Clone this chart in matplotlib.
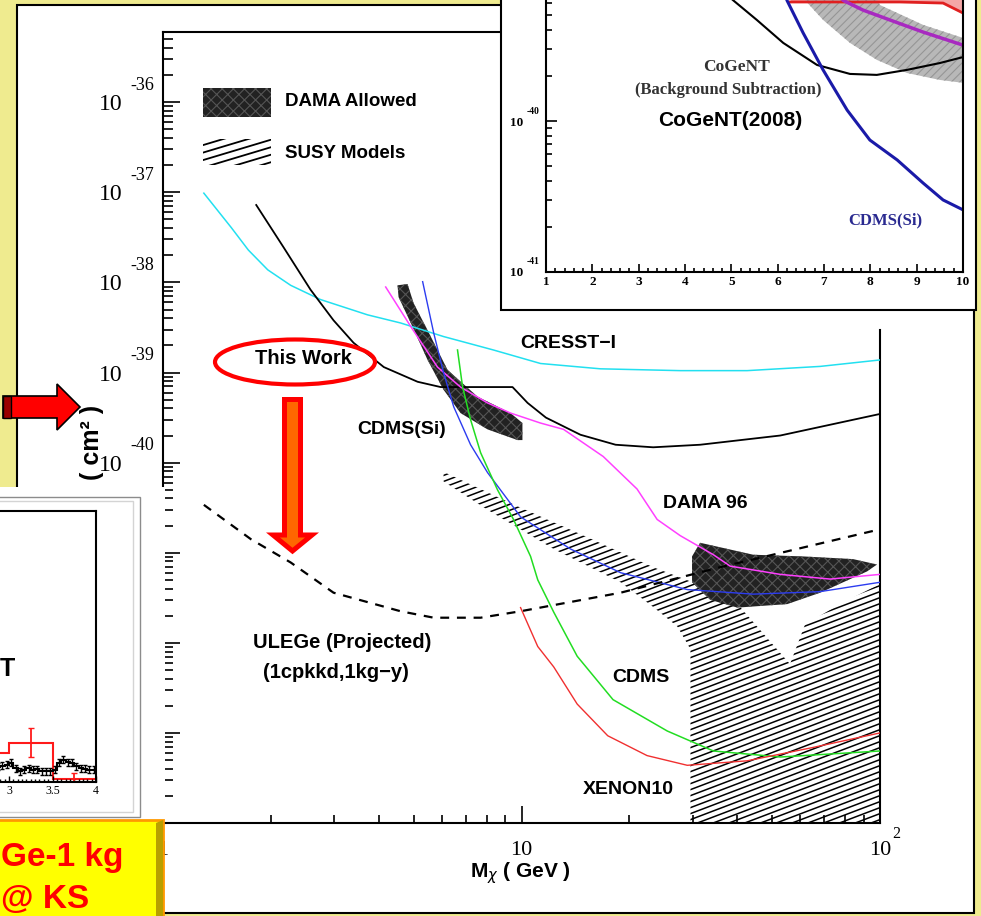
import matplotlib
matplotlib.use('Agg')
import matplotlib.pyplot as plt
import matplotlib.patches as mpatches
import matplotlib.transforms as mtransforms
from matplotlib.collections import LineCollection
from matplotlib.ticker import (LogLocator, FixedLocator, FuncFormatter,
                               NullFormatter, MultipleLocator, NullLocator)
import numpy as np

plt.rcParams['font.family'] = ['Liberation Serif', 'DejaVu Serif']
plt.rcParams['hatch.linewidth'] = 0.8
SANS = ['Liberation Sans', 'DejaVu Sans']

W, H = 981, 916
ID = mtransforms.IdentityTransform()

# ---------------- main plot data: WIMP mass (GeV) vs cross section (cm^2)
cresst_m = [1.30, 1.55, 1.73, 1.96, 2.27, 2.75, 3.72, 4.60, 6.06, 8.35, 11.3, 16.6, 27.7, 42.6, 68.1, 100]
cresst_s = [9.8e-38, 4.07e-38, 2.29e-38, 1.38e-38, 9.3e-39, 6.46e-39, 4.37e-39, 3.55e-39, 2.51e-39,
            1.78e-39, 1.26e-39, 1.10e-39, 1.05e-39, 1.05e-39, 1.17e-39, 1.38e-39]

thiswork_m = [1.82, 2.17, 2.58, 2.99, 3.40, 4.13, 5.13, 5.95, 9.44, 10.4, 11.7, 14.6, 18.3, 23.3, 31.5, 52.7, 100]
thiswork_s = [7.24e-38, 2.45e-38, 8.3e-39, 3.8e-39, 2.14e-39, 1.15e-39, 7.9e-40, 6.9e-40, 6.9e-40, 4.6e-40,
              3.16e-40, 2.04e-40, 1.58e-40, 1.48e-40, 1.58e-40, 2.0e-40, 3.47e-40]

dama96_m = [4.18, 4.91, 5.83, 6.76, 8.04, 9.32, 11.3, 13.1, 16.9, 21.0, 23.9, 27.7, 34.3, 38.2, 52.7, 72.6, 100]
dama96_s = [8.9e-39, 3.24e-39, 1.15e-39, 6.9e-40, 4.6e-40, 3.55e-40, 2.75e-40, 2.34e-40, 1.17e-40, 5.1e-41,
            2.34e-41, 1.55e-41, 9.5e-42, 7.1e-42, 5.75e-42, 5.1e-42, 5.75e-42]

cdmssi_m = [5.30, 5.69, 6.06, 6.47, 7.21, 8.04, 9.94, 13.7, 18.9, 29.0, 44.3, 68.1, 100]
cdmssi_s = [1.02e-38, 2.75e-39, 1.0e-39, 4.17e-40, 1.58e-40, 7.76e-41, 2.5e-41, 1.1e-41, 6.0e-42, 3.9e-42,
            3.47e-42, 3.7e-42, 4.7e-42]

cdms_m = [6.63, 6.85, 7.21, 7.69, 8.57, 9.50, 10.6, 11.1, 12.3, 14.3, 18.0, 25.5, 34.3, 52.7, 100]
cdms_s = [1.78e-39, 6.9e-40, 3.0e-40, 1.29e-40, 5.0e-41, 2.34e-41, 9.1e-42, 5.0e-42, 2.19e-42, 7.1e-43,
          2.34e-43, 1.05e-43, 6.3e-44, 5.4e-44, 6.3e-44]

xenon_m = [9.94, 11.1, 12.3, 14.3, 17.4, 22.4, 29.0, 42.6, 65.1, 100]
xenon_s = [2.46e-42, 9.1e-43, 5.4e-43, 2.09e-43, 9.3e-44, 5.6e-44, 4.37e-44, 4.9e-44, 6.9e-44, 1.0e-43]

ulege_m = [1.30, 1.76, 2.27, 2.99, 4.60, 5.69, 7.69, 9.94, 18.9, 35.8, 100]
ulege_s = [3.4e-41, 1.41e-41, 7.8e-42, 3.6e-42, 2.24e-42, 1.9e-42, 1.9e-42, 2.24e-42, 3.6e-42, 6.9e-42, 1.82e-41]

dama_lo_m = [4.51, 4.81, 5.00, 5.47, 6.22, 7.54, 9.32, 10.06, 10.06, 9.75, 8.04, 6.76, 6.06, 5.47, 4.91, 4.54]
dama_lo_s = [9.3e-39, 9.6e-39, 5.9e-39, 2.95e-39, 1.07e-39, 5.4e-40, 3.55e-40, 2.75e-40, 1.78e-40, 1.78e-40,
             2.34e-40, 3.55e-40, 6.45e-40, 1.38e-39, 3.55e-39, 6.9e-39]

dama_hi_m = [29.9, 31.5, 44.3, 61.0, 84.1, 98.1, 92.0, 68.1, 55.1, 40.0, 33.6, 29.9]
dama_hi_s = [9.1e-42, 1.29e-41, 9.5e-42, 9.1e-42, 8.5e-42, 7.4e-42, 6.2e-42, 3.6e-42, 2.69e-42, 2.46e-42,
             3.0e-42, 4.7e-42]

susy_m = [6.06, 9.94, 15.3, 23.3, 29.6, 40.7, 56.1, 61.8, 77.4, 100, 100, 29.6, 29.6, 27.2, 23.3, 18.9,
          12.3, 8.04, 6.06]
susy_s = [7.9e-41, 3.16e-41, 1.48e-41, 6.9e-42, 4.8e-42, 2.5e-42, 5.8e-43, 1.6e-42, 2.69e-42, 4.5e-42,
          1e-44, 1e-44, 8.5e-43, 1.52e-42, 2.5e-42, 4.7e-42, 1.1e-41, 3.0e-41, 6.2e-41]

# ---------------- CoGeNT (2008) inset: mass 1-10 GeV
cogent_m = [4.3, 5.04, 5.55, 6.12, 6.85, 7.56, 8.14, 8.79, 9.50, 10.0]
cogent_s = [1.0e-39, 6.3e-40, 4.67e-40, 3.29e-40, 2.35e-40, 2.05e-40, 2.02e-40, 2.18e-40, 2.42e-40, 2.65e-40]
band_m = [6.27, 7.78, 8.21, 9.14, 10.0, 10.0, 9.50, 8.79, 8.14, 7.56, 6.98, 6.59, 6.16]
band_s = [1e-39, 1e-39, 5.86e-40, 4.33e-40, 3.55e-40, 1.79e-40, 1.87e-40, 2.08e-40, 2.54e-40, 3.29e-40,
          4.67e-40, 6.3e-40, 1e-39]
purple_m = [7.13, 7.41, 7.84, 8.42, 9.14, 10.0]
purple_s = [1e-39, 6.3e-40, 5.43e-40, 4.67e-40, 3.88e-40, 3.18e-40]
red_in_m = [6.27, 7.56, 8.64, 9.57, 10.0]
red_in_s = [6.14e-40, 6.14e-40, 6.14e-40, 6.04e-40, 5.19e-40]
blue_in_m = [6.05, 6.20, 6.55, 6.98, 7.50, 7.99, 8.58, 9.14, 9.57, 10.0]
blue_in_s = [1e-39, 6.3e-40, 3.83e-40, 2.18e-40, 1.18e-40, 7.48e-41, 5.52e-41, 3.88e-41, 3.0e-41, 2.58e-41]

# ---------------- spectrum inset (energy keV, counts)
red_edges = [2.5, 3.0, 3.5, 4.0]
red_counts = [2.9, 3.9, 0.3]
red_err_x = [3.25, 3.75]
red_err_y = [3.95, 0.4]
red_err = [1.45, 0.45]
blk_edges = [2.85, 2.90, 2.95, 3.00, 3.05, 3.10, 3.15, 3.20, 3.25, 3.30, 3.35, 3.40, 3.45,
             3.50, 3.55, 3.60, 3.65, 3.70, 3.75, 3.80, 3.85, 3.90, 3.95, 4.00]
blk_counts = [1.5, 1.6, 1.7, 1.9, 1.35, 1.05, 1.2, 1.35, 1.2, 1.25, 1.05, 1.05, 1.05,
              1.2, 1.9, 2.2, 1.95, 1.9, 1.55, 1.35, 1.3, 1.2, 1.2]

main_decades = [-36, -37, -38, -39, -40]
inset_decades = [-40, -41]


def fig_rect(x0, y0, x1, y1):
    return [x0 / W, 1 - y1 / H, (x1 - x0) / W, (y1 - y0) / H]


def D(px, py):
    return (px, H - py)


def hatch(ax, clip, spacing=6.0, slope=0.38, lw=1.1):
    segs = [[(100, c + slope * 100), (1000, c + slope * 1000)] for c in np.arange(-700, 1200, spacing)]
    lc = LineCollection(segs, colors='k', linewidths=lw, transform=ID)
    ax.add_collection(lc, autolim=False)
    lc.set_clip_path(clip)


def shifted(trans, dx, dy):
    return trans + mtransforms.ScaledTranslation(dx / 100, dy / 100, fig.dpi_scale_trans)


fig = plt.figure(figsize=(W / 100, H / 100), dpi=100, facecolor='#EFEB8F')

# white slide panel
fig.add_artist(mpatches.Rectangle(D(17, 913), 957, 908, transform=ID, fc='white', ec='black',
                                  lw=1.5, zorder=0.5))

# ================= main plot
ax = fig.add_axes(fig_rect(163, 32, 880, 823))
ax.set_zorder(1)
ax.set_xscale('log')
ax.set_yscale('log')

susy = mpatches.Polygon(np.column_stack([susy_m, susy_s]), closed=True, fc='none', ec='none')
ax.add_patch(susy)
hatch(ax, susy)

for m, s in [(dama_lo_m, dama_lo_s), (dama_hi_m, dama_hi_s)]:
    ax.add_patch(mpatches.Polygon(np.column_stack([m, s]), closed=True, fc='#222222', ec='#555555',
                                  lw=0, hatch='xxx', zorder=2))

ax.plot(cresst_m, cresst_s, color='#22E0F0', lw=1.1, zorder=3)
ax.plot(thiswork_m, thiswork_s, color='black', lw=1.3, zorder=3)
ax.plot(dama96_m, dama96_s, color='#FF40FF', lw=1.1, zorder=3)
ax.plot(cdmssi_m, cdmssi_s, color='#2C3CF0', lw=1.0, zorder=3)
ax.plot(cdms_m, cdms_s, color='#22DD22', lw=1.1, zorder=3)
ax.plot(xenon_m, xenon_s, color='#F03030', lw=1.0, zorder=3)
ax.plot(ulege_m, ulege_s, color='black', lw=1.6, ls=(0, (4, 3.5)), zorder=3)

ax.set_xlim(1, 100)
ax.set_ylim(1e-44, 10 ** -35.22)

ax.xaxis.set_major_locator(FixedLocator([1, 10, 100]))
ax.xaxis.set_minor_locator(LogLocator(base=10, subs=np.arange(2, 10)))
xlab = {1: '1', 10: '10', 100: '10'}
ax.xaxis.set_major_formatter(FuncFormatter(lambda v, p: xlab.get(int(round(v)), '')))
ax.xaxis.set_minor_formatter(NullFormatter())
ax.yaxis.set_major_locator(LogLocator(base=10, numticks=30))
ax.yaxis.set_minor_locator(LogLocator(base=10, subs=np.arange(2, 10), numticks=30))
ax.yaxis.set_major_formatter(FuncFormatter(
    lambda v, p: '10' if int(round(np.log10(v))) in main_decades else ''))
ax.yaxis.set_minor_formatter(NullFormatter())

ax.tick_params(which='both', direction='in', top=False, right=False, width=1.2, labelsize=16)
ax.tick_params(axis='y', labelsize=17)
ax.tick_params(which='major', length=12)
ax.tick_params(axis='y', which='minor', length=7)
ax.tick_params(axis='x', which='minor', length=6)
ax.tick_params(axis='y', pad=29)
ax.tick_params(axis='x', pad=13)
for sp in ax.spines.values():
    sp.set_linewidth(1.5)
ax.spines['right'].set_bounds(1e-44, 2.95e-39)

# exponents of the tick labels
ybl = mtransforms.blended_transform_factory(ax.transAxes, ax.transData)
for e in main_decades:
    ax.text((130 - 163) / 717, 10.0 ** e, '-%d' % -e, transform=shifted(ybl, 0, 17), fontsize=13,
            ha='left', va='center', clip_on=False)
xbl = mtransforms.blended_transform_factory(ax.transData, ax.transAxes)
ax.text(100, 0, '2', transform=shifted(xbl, 12, -11), fontsize=11.5, ha='left', va='center',
        clip_on=False)


def txt(a, px, py, s, size=14, **kw):
    kw.setdefault('ha', 'left')
    return a.text(*D(px, py), s, transform=ID, fontfamily=SANS, fontweight='bold',
                  fontsize=size, va='center', **kw)


# legend
ax.add_patch(mpatches.Rectangle(D(203, 117), 68, 29, transform=ID, fc='#222222', ec='#555555',
                                lw=0, hatch='xxx'))
susy_key = mpatches.Rectangle(D(203, 165), 68, 26, transform=ID, fc='none', ec='none')
ax.add_patch(susy_key)
hatch(ax, susy_key, spacing=7.5, slope=0.3, lw=1.3)
txt(ax, 285, 102, 'DAMA Allowed', 13.5)
txt(ax, 285, 153, 'SUSY Models', 13.5)

txt(ax, 520, 343, 'CRESST\u2212I')
txt(ax, 303, 359, 'This Work', 14.5, ha='center')
txt(ax, 357, 430, 'CDMS(Si)')
txt(ax, 663, 503, 'DAMA 96')
txt(ax, 253, 643, 'ULEGe (Projected)', 14.5)
txt(ax, 263, 673, '(1cpkkd,1kg\u2212y)', 14.5)
txt(ax, 612, 677, 'CDMS')
txt(ax, 583, 789, 'XENON10')
ax.text(*D(520, 873), r'M$_{\chi}$ ( GeV )', transform=ID, fontfamily=SANS, fontweight='bold',
        fontsize=15, ha='center', va='center', math_fontfamily='dejavusans')
fig.text(*D(92, 442), '( cm\u00b2 )', transform=ID, fontfamily=SANS, fontweight='bold',
         fontsize=18, rotation=90, ha='center', va='center', zorder=1.5)

# ================= CoGeNT inset (top right)
fig.add_artist(mpatches.Rectangle(D(501, 310), 475, 330, transform=ID, fc='white', ec='black',
                                  lw=1.5, zorder=2))
ax2 = fig.add_axes(fig_rect(546, -30, 963, 272))
ax2.set_zorder(3)
ax2.set_yscale('log')
ax2.fill_between(red_in_m, red_in_s, 1e-39, color='#F4A6A6', lw=0)
ax2.add_patch(mpatches.Polygon(np.column_stack([band_m, band_s]), closed=True, fc='#B8B8B8',
                               ec='#959595', lw=0, hatch='////'))
ax2.plot(red_in_m, red_in_s, color='#E02020', lw=2)
ax2.plot(purple_m, purple_s, color='#A82AC0', lw=2.5)
ax2.plot(cogent_m, cogent_s, color='black', lw=1.5)
ax2.plot(blue_in_m, blue_in_s, color='#1A1AA8', lw=2.2)
ax2.set_xlim(1, 10)
ax2.set_ylim(1e-41, 1e-39)
ax2.xaxis.set_major_locator(MultipleLocator(1))
ax2.xaxis.set_minor_locator(MultipleLocator(0.2))
ax2.xaxis.set_major_formatter(FuncFormatter(lambda v, p: '%d' % round(v)))
ax2.yaxis.set_major_locator(FixedLocator([1e-41, 1e-40, 1e-39]))
ax2.yaxis.set_minor_locator(LogLocator(base=10, subs=np.arange(2, 10), numticks=10))
ax2.yaxis.set_major_formatter(FuncFormatter(
    lambda v, p: '10' if int(round(np.log10(v))) in inset_decades else ''))
ax2.yaxis.set_minor_formatter(NullFormatter())
ax2.tick_params(which='both', direction='in', top=False, right=False, width=1.2, labelsize=9.5, pad=3)
ax2.tick_params(axis='y', which='major', length=8, pad=16.5)
ax2.tick_params(axis='y', which='minor', length=4.5)
ax2.tick_params(axis='x', which='major', length=6)
ax2.tick_params(axis='x', which='minor', length=3)
for t in ax2.get_xticklabels() + ax2.get_yticklabels():
    t.set_fontweight('bold')
for sp in ax2.spines.values():
    sp.set_linewidth(1.5)
ax2.spines['top'].set_visible(False)
ybl2 = mtransforms.blended_transform_factory(ax2.transAxes, ax2.transData)
for e in inset_decades:
    ax2.text((527 - 546) / 417, 10.0 ** e, '-%d' % -e, transform=shifted(ybl2, 0, 10), fontsize=7,
             fontweight='bold', ha='left', va='center', clip_on=False)
ax2.text(*D(737, 67), 'CoGeNT', transform=ID, fontsize=12.5, fontweight='bold', color='#333333',
         ha='center', va='center')
ax2.text(*D(728, 90), '(Background Subtraction)', transform=ID, fontsize=12, fontweight='bold',
         color='#333333', ha='center', va='center')
txt(ax2, 730, 121, 'CoGeNT(2008)', 15, ha='center')
ax2.text(*D(885, 220), 'CDMS(Si)', transform=ID, fontsize=12, fontweight='bold', color='#2A2A90',
         ha='center', va='center')

# ================= spectrum inset (bottom left)
fig.add_artist(mpatches.Rectangle(D(-5, 822), 170, 335, transform=ID, fc='white', ec='none', zorder=2))
fig.add_artist(mpatches.Rectangle(D(-5, 817), 145, 320, transform=ID, fc='none', ec='#8c8c8c',
                                  lw=1.0, zorder=2.1))
fig.add_artist(mpatches.Rectangle(D(-5, 812), 138, 311, transform=ID, fc='none', ec='#d4d4d4',
                                  lw=1.0, zorder=2.1))
ax3 = fig.add_axes(fig_rect(-78, 511, 96, 782))
ax3.set_zorder(3)
ax3.patch.set_alpha(0)
ax3.stairs(red_counts, red_edges, color='#FF1A1A', lw=1.5, baseline=None)
ax3.errorbar(red_err_x, red_err_y, yerr=red_err, fmt='none', ecolor='#FF1A1A', elinewidth=1.3,
             capsize=2.5)
ax3.stairs(blk_counts, blk_edges, color='black', lw=1.5, baseline=None)
blk_x = [(a + b) / 2 for a, b in zip(blk_edges[:-1], blk_edges[1:])]
ax3.errorbar(blk_x, blk_counts, yerr=0.35, fmt='none', ecolor='black', elinewidth=1.0, capsize=1.5)
ax3.set_xlim(2, 4)
ax3.set_ylim(0, 27)
ax3.xaxis.set_major_locator(FixedLocator([3, 3.5, 4]))
ax3.xaxis.set_minor_locator(MultipleLocator(0.05))
ax3.xaxis.set_major_formatter(FuncFormatter(lambda v, p: '%g' % v))
ax3.yaxis.set_major_locator(NullLocator())
ax3.tick_params(which='both', direction='in', top=False, right=False, width=1.0, labelsize=8.5, pad=2)
ax3.tick_params(which='major', length=4)
ax3.tick_params(which='minor', length=2.5)
for sp in ax3.spines.values():
    sp.set_linewidth(1.5)
txt(ax3, 15, 669, 'T', 18, ha='right')

# ================= slide decorations
fig.add_artist(mpatches.Rectangle(D(-5, 918), 168, 98, transform=ID, fc='#FFFF00', ec='#FF9900',
                                  lw=2, zorder=4))
fig.add_artist(mpatches.Polygon([D(156, 823), D(163, 820), D(163, 918), D(156, 918)], closed=True,
                                transform=ID, fc='#B8A000', ec='none', zorder=4.1))
fig.text(*D(1, 866), 'Ge-1 kg', transform=ID, fontfamily=SANS, fontweight='bold', fontsize=24,
         color='#FF0000', ha='left', va='baseline', zorder=5)
fig.text(*D(1, 908), '@ KS', transform=ID, fontfamily=SANS, fontweight='bold', fontsize=24,
         color='#FF0000', ha='left', va='baseline', zorder=5)

fig.add_artist(mpatches.Polygon([D(3, 396), D(57, 396), D(57, 384), D(80, 407), D(57, 430),
                                 D(57, 418), D(3, 418)], closed=True, transform=ID, fc='#FF0000',
                                ec='black', lw=1.2, zorder=4))
fig.add_artist(mpatches.Rectangle(D(3, 418), 8, 22, transform=ID, fc='#9A0000', ec='black', lw=1,
                                  zorder=4.1))
fig.add_artist(mpatches.Polygon([D(284.5, 399.5), D(300.5, 399.5), D(300.5, 535), D(312, 535),
                                 D(292.5, 551), D(273, 535), D(284.5, 535)], closed=True,
                                transform=ID, fc='#FF6600', ec='#FF0000', lw=3.6, joinstyle='miter',
                                zorder=4))
fig.add_artist(mpatches.Ellipse(D(295, 362), 160, 45, transform=ID, fc='none', ec='#FF0000', lw=3,
                                zorder=4))

fig.savefig('out.png', dpi=100)
